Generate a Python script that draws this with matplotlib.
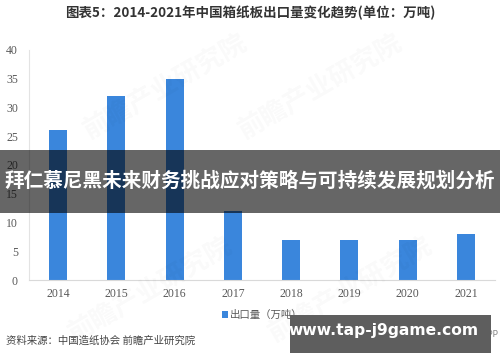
import matplotlib
matplotlib.use("Agg")
import matplotlib.pyplot as plt
from matplotlib.patches import Rectangle

plt.rcParams['font.family'] = ['Noto Sans CJK SC', 'DejaVu Sans']

# data
years = ['2014', '2015', '2016', '2017', '2018', '2019', '2020', '2021']
export = [26, 32, 35, 12, 7, 7, 7, 8]
yticks = [0, 5, 10, 15, 20, 25, 30, 35, 40]

title = '图表5：2014-2021年中国箱纸板出口量变化趋势(单位：万吨)'
legend_label = '出口量（万吨）'
source = '资料来源：中国造纸协会 前瞻产业研究院'
banner = '拜仁慕尼黑未来财务挑战应对策略与可持续发展规划分析'
site = 'www.tap-j9game.com'

bar_color = '#3a86dc'
tick_color = '#595959'

fig = plt.figure(figsize=(5, 3.62), dpi=100)
ax = fig.add_axes([0.058, 0.2265, 0.932, 0.6355])

x = list(range(len(years)))
ax.bar(x, export, width=0.31, color=bar_color, label=legend_label, zorder=2)
ax.set_xlim(-0.5, len(years) - 0.5)
ax.set_ylim(0, 40)
ax.set_yticks(yticks)
ax.set_xticks(x)
ax.set_xticklabels(years)
for lab in ax.get_xticklabels() + ax.get_yticklabels():
    lab.set_family('Liberation Serif')
    lab.set_fontsize(8.5)
    lab.set_color(tick_color)
ax.tick_params(length=0, pad=6)
ax.tick_params(axis='y', pad=8)
for s in ['top', 'right']:
    ax.spines[s].set_visible(False)
ax.spines['left'].set_color('#e3e3e3')
ax.spines['bottom'].set_color('#d9d9d9')

# faint watermarks
for wx, wy in [(0.33, 0.76), (0.64, 0.76), (0.3, 0.2), (0.7, 0.2)]:
    fig.text(wx, wy, '前瞻产业研究院', fontsize=19, color='#000000', alpha=0.025,
             rotation=30, ha='center', va='center', fontweight='bold')

fig.text(0.5, 0.964, title, ha='center', va='center', fontsize=9.7,
         fontweight='bold', color='#333333')

leg = ax.legend(loc='upper center', bbox_to_anchor=(0.5, -0.09), frameon=False,
                fontsize=7.5, handlelength=0.6, handleheight=0.6, handletextpad=0.2)
for t in leg.get_texts():
    t.set_color(tick_color)

fig.text(0.012, 0.06, source, ha='left', va='center', fontsize=7.5, color='#444444')
fig.text(0.998, 0.075, 'APP', ha='right', va='center', fontsize=6.5,
         color='#888888', family='DejaVu Sans')

# dark overlay band
fig.patches.append(Rectangle((0, 1 - 213 / 362), 1, 63 / 362, transform=fig.transFigure,
                             facecolor='black', alpha=0.6, edgecolor='none', zorder=5))
fig.text(0.5, 1 - 181 / 362, banner, ha='center', va='center', fontsize=14.1,
         fontweight='bold', color='white', zorder=6)

# site box
fig.patches.append(Rectangle((290 / 500, 1 - 353 / 362), 201 / 500, 38 / 362,
                             transform=fig.transFigure, facecolor='#5e5e5e',
                             edgecolor='none', zorder=5))
fig.text(384 / 500, 1 - 331 / 362, site, ha='center', va='center', fontsize=11.2,
         fontweight='bold', color='white', family='DejaVu Sans', zorder=6)

fig.savefig('out.png', dpi=100)
